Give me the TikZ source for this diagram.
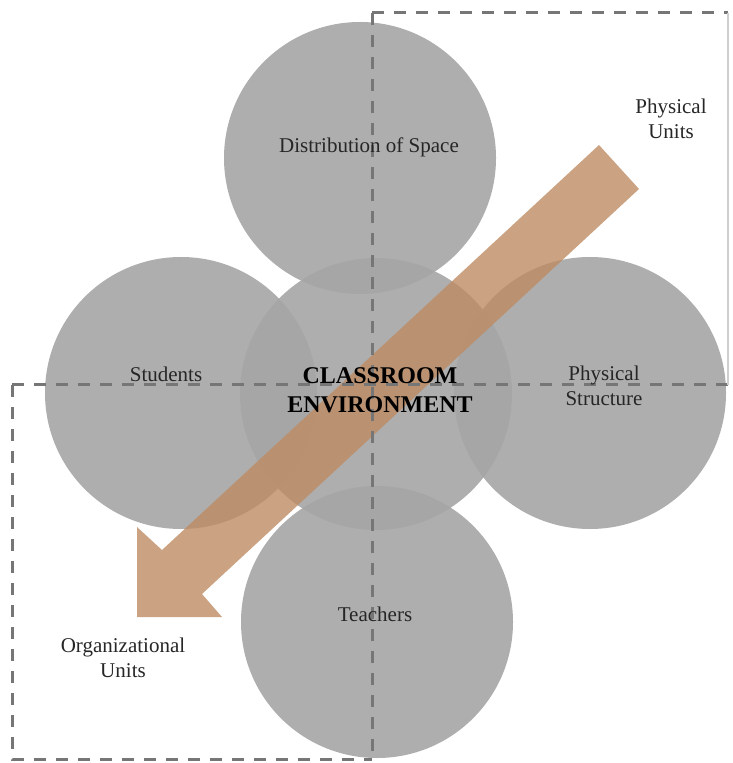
\documentclass[tikz,border=0pt]{standalone}
\usepackage{fontspec}
\setmainfont{Liberation Serif}
\definecolor{discgray}{RGB}{165,165,165}
\definecolor{guidegray}{RGB}{118,118,118}
\definecolor{arrowtan}{RGB}{190,140,100}
\begin{document}
\begin{tikzpicture}[x=0.5pt,y=-0.5pt,
  disc/.style={circle,fill=discgray,fill opacity=0.9,minimum size=136pt,inner sep=0pt},
  txt/.style={align=center,font=\fontsize{10.5}{12.5}\selectfont,text=black!85},
  guide/.style={draw=guidegray,line width=1.5pt,dash pattern=on 6pt off 5pt}]
\useasboundingbox (0,0) rectangle (732,763);
% circles
\node[disc] (space) at (360,158) {};
\node[disc] (students) at (181,393) {};
\node[disc] (structure) at (590,393) {};
\node[disc] (teachers) at (377,622) {};
\node[disc] (env) at (376,394) {};
% big arrow
\fill[arrowtan,fill opacity=0.8] (599,145) -- (639,189) -- (202,594) -- (222,617) -- (137,617) -- (137,527) -- (162,550) -- cycle;
% dashed frames
\coordinate (tl) at (372,13);
\coordinate (tr) at (728,13);
\coordinate (bm) at (372,759);
\coordinate (ml) at (12,385);
\coordinate (mr) at (732,385);
\coordinate (rm) at (728,385);
\coordinate (bl) at (12,759);
\draw[guide] (tl) -- (bm);
\draw[guide] (tl) -- (tr);
\draw[guide] (ml) -- (mr);
\draw[guide] (ml) -- (bl) -- (bm);
\draw[draw=guidegray!35,line width=0.6pt] (tr) -- (rm);
% labels
\node[txt] (spacetxt) at (369,147) {Distribution of Space};
\node[txt] (physunits) at (671,119) {Physical\\Units};
\node[txt] (studtxt) at (166,374) {Students};
\node[txt,font=\bfseries\fontsize{12}{14.5}\selectfont,text=black] (envtxt) at (380,390) {CLASSROOM\\ENVIRONMENT};
\node[txt] (structtxt) at (604,386) {Physical\\Structure};
\node[txt] (teachtxt) at (375,614) {Teachers};
\node[txt] (orgunits) at (123,658) {Organizational\\Units};
\end{tikzpicture}
\end{document}
